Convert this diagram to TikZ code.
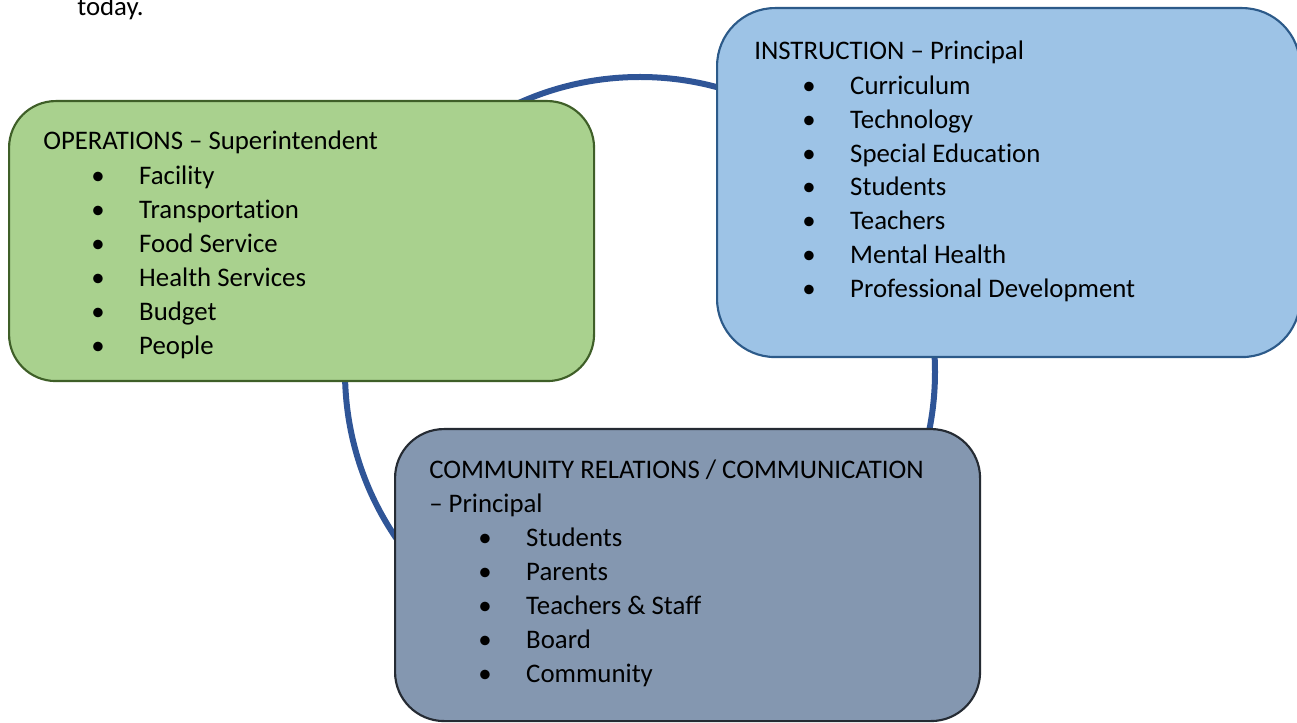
\documentclass[tikz,border=0pt]{standalone}
\usepackage{fontspec}
\setmainfont[Ligatures={NoCommon}]{Carlito}
\usepackage{xcolor}
\definecolor{opsfill}{HTML}{A9D18E}
\definecolor{opsline}{HTML}{3F5F28}
\definecolor{insfill}{HTML}{9DC3E6}
\definecolor{insline}{HTML}{2C5A89}
\definecolor{comfill}{HTML}{8497B0}
\definecolor{comline}{HTML}{252B33}
\definecolor{cycleblue}{HTML}{2F5597}
\newcommand{\blt}[1]{\makebox[36pt][l]{\textbullet}#1}
\tikzset{
		box/.style={draw, line width=1.6pt, anchor=north west, inner sep=0pt},
		head/.style={anchor=base west, inner sep=0pt, font=\fontsize{20.1}{24}\selectfont},
		cycleline/.style={draw=cycleblue, line width=4.5pt}
	}
\begin{document}
\begin{tikzpicture}[x=0.75pt, y=-0.75pt]
		\useasboundingbox (0,0) rectangle (1297,723);
		\clip (0,0) rectangle (1297,723);

		\node[head] (today) at (77,16) {today.};

		\coordinate (hub) at (640,372);
		\path[cycleline] (hub) circle [radius=295];

		% the three areas
		\node[box, fill=opsfill, draw=opsline, rounded corners=35pt,
			minimum width=438.75pt, minimum height=210pt]   (ops) at (8,100)   {};
		\node[box, fill=insfill, draw=insline, rounded corners=43.5pt,
			minimum width=437.25pt, minimum height=261.75pt] (ins) at (716,7)   {};
		\node[box, fill=comfill, draw=comline, rounded corners=36.7pt,
			minimum width=438.75pt, minimum height=219pt]   (com) at (394,428) {};

		\node[head] (opshead) at (43,149.5)  {OPERATIONS -- Superintendent};
		\foreach \t [count=\i] in {Facility, Transportation, Food Service,
				Health Services, Budget, People}
			\node[head] (ops\i) at (91,{150.5+34*\i}) {\blt{\t}};

		\node[head] (inshead) at (754,59.5) {INSTRUCTION -- Principal};
		\foreach \t [count=\i] in {Curriculum, Technology, Special Education,
				Students, Teachers, Mental Health, Professional Development}
			\node[head] (ins\i) at (802,{60.6+33.85*\i}) {\blt{\t}};

		\node[head] (comhead)  at (429,478.5) {COMMUNITY RELATIONS / COMMUNICATION};
		\node[head] (comhead2) at (429,512.5) {-- Principal};
		\foreach \t [count=\i] in {Students, Parents, Teachers \& Staff,
				Board, Community}
			\node[head] (com\i) at (478,{512.5+34*\i}) {\blt{\t}};

	\end{tikzpicture}
\end{document}
